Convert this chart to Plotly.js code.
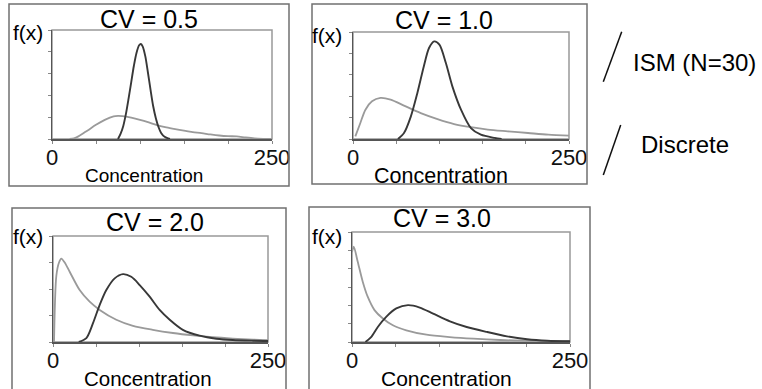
<!DOCTYPE html>
<html><head><meta charset="utf-8">
<script src="https://cdn.plot.ly/plotly-3.0.1.min.js"></script>
<style>html,body{margin:0;padding:0;background:#fff;}#chart{width:762px;height:389px;}</style>
</head><body><div id="chart"></div>
<script>
// ---------------- data ----------------
const panelTitles = ['CV = 0.5', 'CV = 1.0', 'CV = 2.0', 'CV = 3.0'];
const seriesNames = ['ISM (N=30)', 'Discrete'];
const xTitle = 'Concentration';
const yTitle = 'f(x)';
const xTickVals = [0, 50, 100, 150, 200, 250];
const xTickText = ['0', '', '', '', '', '250'];
const yMax = [5, 5, 4, 6];

// CV = 0.5
const ism1X = [75, 78, 81, 84, 87, 90, 93, 96, 99, 101, 103, 106, 109, 112, 115, 118, 121, 124, 128, 132, 134];
const ism1Y = [0, 0.25, 0.6, 1.15, 1.85, 2.6, 3.35, 3.95, 4.3, 4.36, 4.25, 3.8, 3.05, 2.25, 1.5, 0.95, 0.55, 0.28, 0.1, 0.03, 0];
const disc1X = [20, 25, 30, 40, 50, 60, 70, 75, 80, 90, 100, 110, 120, 130, 140, 150, 160, 170, 180, 190, 200, 210, 220, 230, 240, 250];
const disc1Y = [0, 0.03, 0.12, 0.38, 0.65, 0.88, 1.04, 1.06, 1.05, 0.98, 0.88, 0.76, 0.63, 0.53, 0.45, 0.38, 0.32, 0.27, 0.21, 0.16, 0.13, 0.12, 0.07, 0.03, 0.01, 0];

// CV = 1.0
const ism2X = [52, 59, 67, 74.5, 82, 88, 94, 100, 107.5, 115, 125, 136.5, 148, 164, 172];
const ism2Y = [0, 0.28, 1.06, 2.15, 3.4, 4.25, 4.56, 4.41, 3.55, 2.46, 1.37, 0.51, 0.2, 0.05, 0];
const disc2X = [2.7, 8.5, 14.4, 22, 31.8, 43.5, 59, 78.4, 97.8, 117, 136.6, 156, 179, 202.6, 226, 250];
const disc2Y = [0.12, 0.75, 1.37, 1.76, 1.92, 1.84, 1.56, 1.21, 0.93, 0.7, 0.55, 0.44, 0.36, 0.28, 0.2, 0.16];

// CV = 2.0
const ism3X = [30, 38.8, 46.5, 54.3, 62, 71.7, 81.4, 91, 100.8, 112.4, 124, 135.7, 151, 170.5, 190, 209, 232.6, 250];
const ism3Y = [0, 0.15, 0.71, 1.4, 1.96, 2.4, 2.56, 2.46, 2.15, 1.71, 1.21, 0.84, 0.46, 0.24, 0.125, 0.075, 0.05, 0.04];
const disc3X = [1.2, 3.9, 7, 9.7, 13.6, 19.4, 31, 42.6, 54.3, 73.6, 93, 116, 139.5, 162.8, 186, 209, 232.6, 250];
const disc3Y = [0, 2.5, 3.0, 3.15, 3.0, 2.65, 1.96, 1.52, 1.21, 0.84, 0.61, 0.46, 0.34, 0.25, 0.18, 0.13, 0.09, 0.07];

// CV = 3.0
const ism4X = [15.4, 21.9, 29.6, 39.2, 50.8, 64.2, 77.7, 93, 112.3, 131.5, 154.6, 177.7, 200.8, 223.8, 250];
const ism4Y = [0, 0.27, 0.82, 1.37, 1.83, 2.01, 1.88, 1.55, 1.13, 0.82, 0.55, 0.31, 0.15, 0.07, 0.04];
const disc4X = [0, 2, 6.5, 12.3, 18, 25.8, 35.4, 46.9, 62.3, 85.4, 112, 139, 170, 200.8, 250];
const disc4Y = [4.9, 5.2, 4.39, 3.29, 2.47, 1.74, 1.28, 0.91, 0.64, 0.4, 0.27, 0.18, 0.11, 0.07, 0.04];

const ismX = [ism1X, ism2X, ism3X, ism4X];
const ismY = [ism1Y, ism2Y, ism3Y, ism4Y];
const discX = [disc1X, disc2X, disc3X, disc4X];
const discY = [disc1Y, disc2Y, disc3Y, disc4Y];

// ---------------- layout helpers ----------------
const W = 762, H = 389;
const px = v => v / W;
const py = v => 1 - v / H;

// plot areas in pixels: [left, right, top, bottom]
const areas = [[52, 272, 30, 139], [353, 569, 32, 139], [53, 268, 236, 342], [352, 570, 232, 342]];
const boxes = [[9, 289, 4, 186], [312, 587, 4, 184], [12, 286, 208, 395], [309, 590, 207, 395]];
const titlePos = [[149, 19], [444, 20], [155, 222], [442, 218]];
const fxPos = [[28, 32], [327, 35], [28, 236], [327, 236]];
const concPos = [[144, 175], [441, 176], [148, 378], [446, 378]];
const concSize = [19, 21.5, 20.5, 21];

const ismColor = '#383838', discColor = '#9a9a9a';
const sans = 'Liberation Sans, Arial, sans-serif';
const narrow = 'Liberation Sans Narrow, Arial Narrow, Liberation Sans, Arial, sans-serif';

const traces = [];
const layout = {
  width: W, height: H, margin: {l: 0, r: 0, t: 0, b: 0},
  paper_bgcolor: '#fff', plot_bgcolor: '#fff', showlegend: false,
  font: {family: sans, color: '#000'},
  shapes: [], annotations: []
};

for (let i = 0; i < 4; i++) {
  const n = i === 0 ? '' : String(i + 1);
  const xa = 'x' + n, ya = 'y' + n;
  traces.push({x: discX[i], y: discY[i], xaxis: xa, yaxis: ya, type: 'scatter', mode: 'lines',
    name: seriesNames[1], line: {color: discColor, width: 1.8, shape: 'spline', smoothing: 0.8}, hoverinfo: 'skip'});
  traces.push({x: ismX[i], y: ismY[i], xaxis: xa, yaxis: ya, type: 'scatter', mode: 'lines',
    name: seriesNames[0], line: {color: ismColor, width: 1.9, shape: 'spline', smoothing: 0.8}, hoverinfo: 'skip'});
  const a = areas[i];
  layout['xaxis' + n] = {
    domain: [px(a[0]), px(a[1])], anchor: ya, range: [0, 250], fixedrange: true,
    tickmode: 'array', tickvals: xTickVals, ticktext: xTickText,
    ticks: 'outside', ticklen: 3, tickcolor: '#888', tickwidth: 1, ticklabelstandoff: -5,
    showline: true, linecolor: '#555', linewidth: 1.5, showgrid: false, zeroline: false,
    tickfont: {family: sans, size: 22, color: '#111'}
  };
  layout['yaxis' + n] = {
    domain: [py(a[3]), py(a[2])], anchor: xa, range: [0, yMax[i]], fixedrange: true,
    dtick: 1, ticks: 'outside', ticklen: 3, tickcolor: '#888', tickwidth: 1,
    showticklabels: false, showline: true, linecolor: '#555', linewidth: 1.5,
    showgrid: false, zeroline: false
  };
  // plot frame (top / right in light grey)
  layout.shapes.push({type: 'rect', xref: xa + ' domain', yref: ya + ' domain', x0: 0, x1: 1, y0: 0, y1: 1,
    line: {color: '#999', width: 1.5}, layer: 'below'});
  // outer panel box
  const b = boxes[i];
  layout.shapes.push({type: 'rect', xref: 'paper', yref: 'paper', x0: px(b[0]), x1: px(b[1]), y0: py(b[3]), y1: py(b[2]),
    line: {color: '#707070', width: 1.5}});
  layout.annotations.push({xref: 'paper', yref: 'paper', x: px(titlePos[i][0]), y: py(titlePos[i][1]),
    text: panelTitles[i], showarrow: false, xanchor: 'center', yanchor: 'middle',
    font: {family: sans, size: 25, color: '#000'}});
  layout.annotations.push({xref: 'paper', yref: 'paper', x: px(fxPos[i][0]), y: py(fxPos[i][1]),
    text: yTitle, showarrow: false, xanchor: 'center', yanchor: 'middle',
    font: {family: sans, size: 21, color: '#000'}});
  layout.annotations.push({xref: 'paper', yref: 'paper', x: px(concPos[i][0]), y: py(concPos[i][1]),
    text: xTitle, showarrow: false, xanchor: 'center', yanchor: 'middle',
    font: {family: narrow, size: concSize[i], color: '#000'}});
}

// legend: slash keys + labels
const legendKeys = [[621.7, 31.7, 603.3, 81.7], [620.7, 125, 603.3, 175]];
const legendText = [[631, 62], [639, 144]];
for (let k = 0; k < 2; k++) {
  const s = legendKeys[k];
  layout.shapes.push({type: 'line', xref: 'paper', yref: 'paper', x0: px(s[0]), y0: py(s[1]), x1: px(s[2]), y1: py(s[3]),
    line: {color: '#111', width: 1.5}});
  layout.annotations.push({xref: 'paper', yref: 'paper', x: px(legendText[k][0]), y: py(legendText[k][1]),
    text: seriesNames[k], showarrow: false, xanchor: 'left', yanchor: 'middle',
    font: {family: sans, size: 24, color: '#000'}});
}

Plotly.newPlot('chart', traces, layout, {staticPlot: true, displayModeBar: false});
</script>
</body></html>
